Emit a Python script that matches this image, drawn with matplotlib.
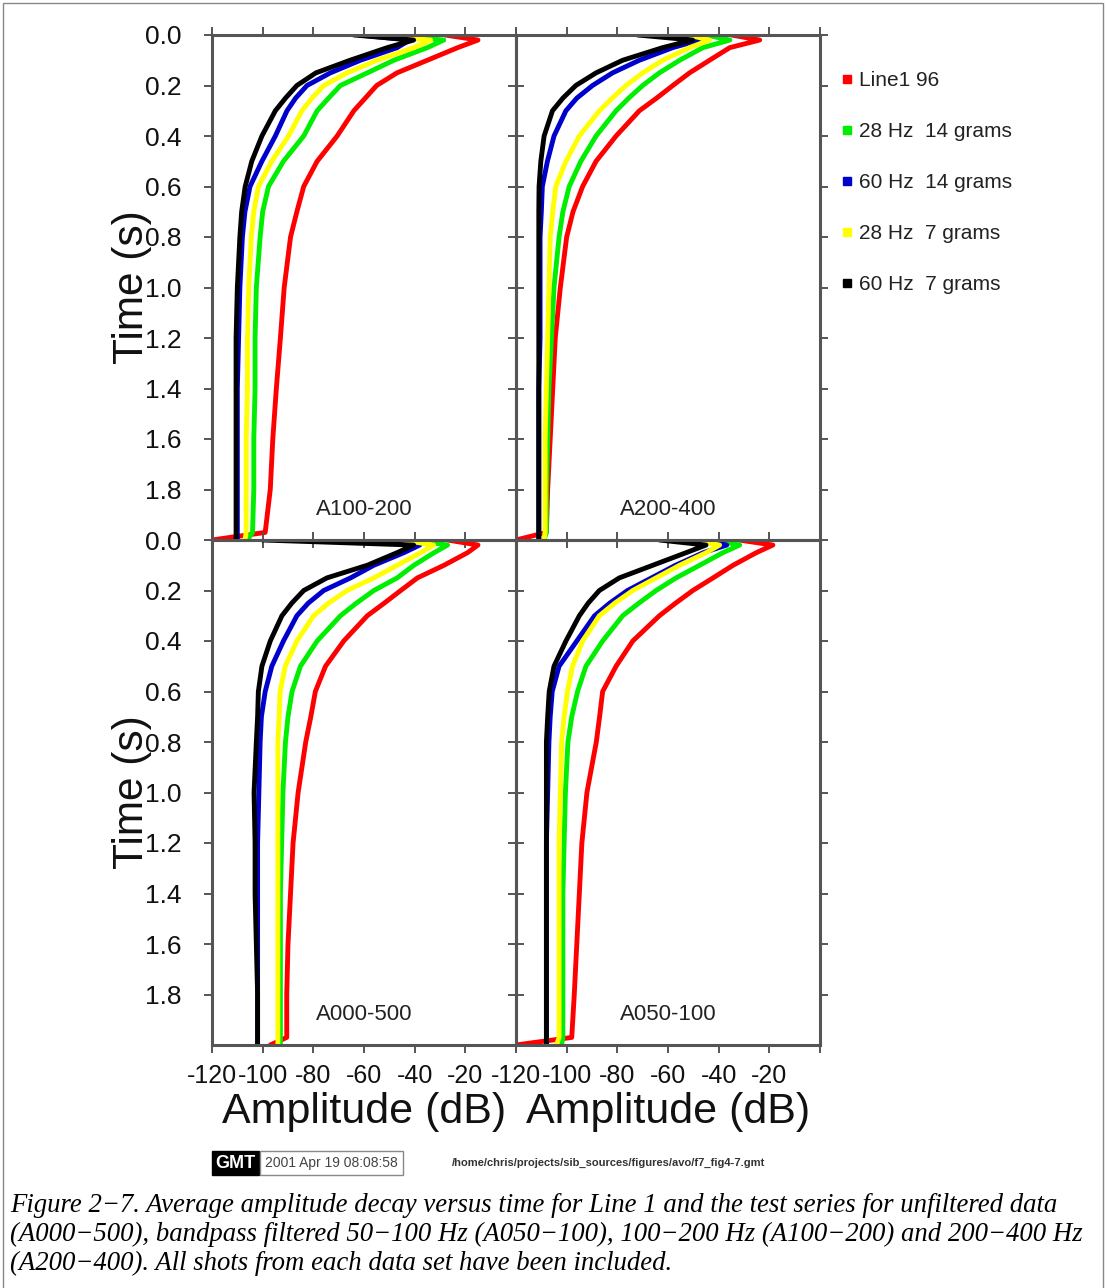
import matplotlib
matplotlib.use('Agg')
import matplotlib.pyplot as plt
from matplotlib.lines import Line2D
from matplotlib.patches import Rectangle

plt.rcParams['font.family'] = ['Liberation Sans', 'DejaVu Sans']
plt.rcParams['axes.unicode_minus'] = False

# ---------------- data ----------------
times = [0.0, 0.02, 0.05, 0.1, 0.15, 0.2, 0.25, 0.3, 0.4, 0.5, 0.6, 0.7,
         0.8, 1.0, 1.2, 1.4, 1.6, 1.8, 1.97, 2.0]

series_labels = ['Line1 96', '28 Hz  14 grams', '60 Hz  14 grams',
                 '28 Hz  7 grams', '60 Hz  7 grams']
series_colors = ['#ff0000', '#00ee00', '#0000cc', '#ffff00', '#000000']

# A100-200
a100_line1 = [-28, -15, -23, -35, -47, -55, -59.5, -64, -70.6, -78.5, -83.8, -86.5,
              -89, -91.5, -93, -94.6, -96, -97, -99, -120]
a100_28h14 = [-50, -28.5, -35, -48.2, -58.7, -69.3, -74, -78.5, -83.8, -91.8, -97.7, -100,
              -101, -102.5, -103, -103, -103.5, -103.5, -104, -106]
a100_60h14 = [-62, -42, -46.9, -61.4, -73.3, -82.5, -87, -90.4, -95, -100.3, -105, -107,
              -108, -109, -109.5, -110, -110, -110, -110, -110]
a100_28h7 = [-56, -33.7, -40.3, -54.8, -66.7, -75.9, -80.5, -84.5, -89.8, -96.4, -101.7, -103.5,
             -104.5, -105.5, -106, -106, -106.5, -106.5, -106.5, -107]
a100_60h7 = [-64, -40.4, -50.8, -65.5, -79, -86.5, -91, -95, -100.3, -104.3, -106.9, -108.3,
             -109, -110, -110.5, -110.5, -110.5, -110.5, -110.5, -110.5]

# A200-400
a200_line1 = [-35, -23.8, -35.6, -43.6, -51.5, -58.1, -64.5, -71.3, -80.5, -88.4, -93.7, -97.5,
              -100, -102.5, -104.5, -105.5, -106.5, -107.5, -108, -120]
a200_28h14 = [-45, -35.6, -46.2, -55.4, -63.4, -70, -75.5, -80.5, -88.4, -94.4, -99, -101.5,
              -103, -105, -106, -107, -107.5, -108, -108, -109]
a200_60h14 = [-60, -47.5, -58.1, -71.3, -81.9, -89.8, -96, -100.3, -105, -107.6, -109.6, -110,
              -110.5, -110.5, -110.5, -111, -111, -111, -111, -111]
a200_28h7 = [-52, -43.6, -51.5, -62.1, -70, -76.6, -82, -87.1, -95, -100.3, -104.3, -105.5,
             -106.5, -107, -107.5, -108, -108.5, -108.5, -108.5, -109]
a200_60h7 = [-72, -50.3, -62.1, -77.9, -88.4, -96.4, -101.5, -105.6, -108.9, -110.2, -110.9, -111,
             -111, -111, -111, -111, -111, -111, -111, -111]

# A000-500
a000_line1 = [-27, -15, -19.1, -28.4, -38.9, -45.5, -52, -58.7, -68, -75.2, -79.2, -81,
              -83, -86, -88, -89, -90, -90.5, -90.5, -97]
a000_28h14 = [-40, -27, -32.3, -40.3, -46.9, -56.1, -63, -69.3, -78.5, -85.1, -88.4, -90,
              -91, -92, -92.5, -93, -93, -93, -93, -93]
a000_60h14 = [-55, -38, -44.2, -56.1, -65.3, -75.9, -82, -86.5, -91.8, -96.4, -99, -100.5,
              -101, -101.5, -102, -102, -102, -102, -102, -102]
a000_28h7 = [-45, -32.5, -37.6, -46.9, -56.1, -66.7, -74, -79.9, -86.5, -91.1, -93.1, -93.5,
             -94, -94, -94, -94, -94, -94, -94, -94]
a000_60h7 = [-100, -40.4, -46.9, -58.7, -74.6, -83.8, -88.5, -92.4, -97, -100.3, -101.7, -102,
             -102.5, -103.4, -103, -103, -102.5, -102, -102, -102]

# A050-100
a050_line1 = [-32, -18.6, -25.1, -34.3, -42.2, -50.2, -57, -63.4, -73.9, -80.5, -85.8, -87,
              -88.3, -92, -94, -95, -96, -97, -98, -120]
a050_28h14 = [-42, -31.7, -38.3, -47.5, -56.8, -64.7, -71.5, -77.9, -85.8, -92.4, -95.7, -98,
              -99.5, -100.5, -101, -101.5, -101.5, -101.5, -101.5, -102]
a050_60h14 = [-45, -36.8, -46, -57, -66.5, -76, -83, -89, -96, -103, -105.7, -106.5,
              -107, -107.5, -108, -108, -108, -108, -108, -108]
a050_28h7 = [-50, -39.6, -44.9, -55.4, -64.7, -73.9, -81, -87.1, -93.7, -97.7, -99.7, -101,
             -102, -102.5, -103, -103, -103, -103, -103, -104]
a050_60h7 = [-63.4, -45, -52.8, -66, -79.2, -87.1, -91.5, -95, -100.3, -105, -106.9, -107.5,
             -108, -108, -108, -108, -108, -108, -108, -108]

panel_names = ['A100-200', 'A200-400', 'A000-500', 'A050-100']
panel_series = [
    [a100_line1, a100_28h14, a100_60h14, a100_28h7, a100_60h7],
    [a200_line1, a200_28h14, a200_60h14, a200_28h7, a200_60h7],
    [a000_line1, a000_28h14, a000_60h14, a000_28h7, a000_60h7],
    [a050_line1, a050_28h14, a050_60h14, a050_28h7, a050_60h7],
]

y_ticks = [0.0, 0.2, 0.4, 0.6, 0.8, 1.0, 1.2, 1.4, 1.6, 1.8]
y_ticklabels = ['0.0', '0.2', '0.4', '0.6', '0.8', '1.0', '1.2', '1.4', '1.6', '1.8']
x_ticks = [-120, -100, -80, -60, -40, -20, 0]
x_ticklabels = ['-120', '-100', '-80', '-60', '-40', '-20', '']

# ---------------- layout ----------------
W, H = 1107, 1288
fig = plt.figure(figsize=(W / 100, H / 100), dpi=100)
fig.patch.set_facecolor('white')

def fx(px):
    return px / W

def fy(py):
    return 1 - py / H

frame_col = '#555555'
x0s = [212, 516]
y0s = [35, 540]
pw, ph = 304, 505

for k in range(4):
    r, c = divmod(k, 2)
    ax = fig.add_axes([fx(x0s[c]), fy(y0s[r] + ph), pw / W, ph / H])
    ax.patch.set_alpha(0)
    for t_vals, col in zip(panel_series[k], series_colors):
        ax.plot(t_vals, times, color=col, lw=3.5, solid_joinstyle='round',
                solid_capstyle='round')
    ax.set_xlim(-120, 0)
    ax.set_ylim(2.0, 0.0)
    ax.set_xticks(x_ticks)
    ax.set_yticks(y_ticks)
    ax.set_xticklabels(x_ticklabels if r == 1 else [''] * len(x_ticks))
    ax.set_yticklabels(y_ticklabels if c == 0 else [''] * len(y_ticks))
    ax.tick_params(axis='both', direction='out', length=6, width=1.4,
                   color=frame_col, top=True, right=True, left=True, bottom=True,
                   labelcolor='#111111')
    ax.tick_params(axis='y', pad=16, labelsize=19)
    ax.tick_params(axis='x', pad=8, labelsize=18)
    for s in ax.spines.values():
        s.set_color(frame_col)
        s.set_linewidth(2.2)
    ax.text(-60, 1.88, panel_names[k], ha='center', va='center',
            fontsize=16, color='#222222')

# axis titles
for py in (287, 792):
    fig.text(fx(132), fy(py), 'Time (s)', rotation=90, ha='center',
             va='center', fontsize=30.5, color='#111111')
for px in (364, 668):
    fig.text(fx(px), fy(1112), 'Amplitude (dB)', ha='center', va='center',
             fontsize=31, color='#111111')

# legend
handles = [Line2D([], [], linestyle='none', marker='s', markersize=6,
                  markerfacecolor=c, markeredgecolor=c) for c in series_colors]
fig.legend(handles, series_labels, loc='upper left',
           bbox_to_anchor=(fx(841), fy(71)), frameon=False, fontsize=15,
           labelspacing=1.54, handlelength=0.6, handletextpad=0.27,
           borderaxespad=0, borderpad=0, labelcolor='#222222')

# GMT time stamp
fig.text(fx(215), fy(1163), 'GMT', color='white', fontsize=13, fontweight='bold',
         ha='left', va='center',
         bbox=dict(facecolor='black', edgecolor='black', pad=2.5))
fig.text(fx(265), fy(1163), '2001 Apr 19 08:08:58', color='#444444', fontsize=10,
         ha='left', va='center',
         bbox=dict(facecolor='white', edgecolor='#888888', pad=3.5, lw=1))
fig.text(fx(452), fy(1163), '/home/chris/projects/sib_sources/figures/avo/f7_fig4-7.gmt',
         color='#333333', fontsize=8, fontweight='bold', ha='left', va='center')

# caption
caption = [
    'Figure 2\u22127. Average amplitude decay versus time for Line 1 and the test series for unfiltered data',
    '(A000\u2212500), bandpass filtered 50\u2212100 Hz (A050\u2212100), 100\u2212200 Hz (A100\u2212200) and 200\u2212400 Hz',
    '(A200\u2212400). All shots from each data set have been included.',
]
for i, line in enumerate(caption):
    fig.text(fx(10), fy(1206 + 28.5 * i), line, ha='left', va='center',
             fontsize=19.3, style='italic', family=['Liberation Serif', 'DejaVu Serif'],
             color='black')

# outer border
fig.patches.append(Rectangle((fx(3), -0.01), 1100 / W, fy(3) + 0.01,
                             transform=fig.transFigure, fill=False,
                             edgecolor='#888888', lw=1.0))

fig.savefig('out.png', dpi=100, facecolor='white')
